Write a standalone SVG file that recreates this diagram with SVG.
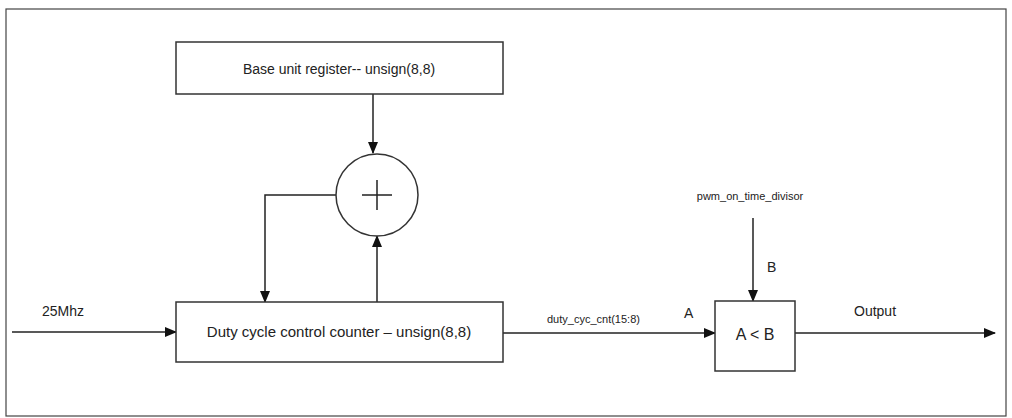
<svg xmlns="http://www.w3.org/2000/svg" width="1012" height="418" viewBox="0 0 1012 418">
<style>
.b{fill:#fff;stroke:#333;stroke-width:1.5}
.l{fill:none;stroke:#222;stroke-width:1.5}
text{font-family:"Liberation Sans",Arial,sans-serif;fill:#222}
</style>
<defs><marker id="a" markerWidth="12" markerHeight="10" refX="11" refY="5" orient="auto" markerUnits="userSpaceOnUse"><path d="M0,0L12,5L0,10z" fill="#111"/></marker></defs>
<rect x="0" y="0" width="1012" height="418" fill="#fff"/>
<rect x="6" y="9" width="1000" height="407" fill="none" stroke="#444" stroke-width="1.2"/>
<g id="connectors">
<path class="l" d="M373,94V153" marker-end="url(#a)"/>
<path class="l" d="M336,195H265V302" marker-end="url(#a)"/>
<path class="l" d="M377,302V236" marker-end="url(#a)"/>
<path class="l" d="M12,332H176" marker-end="url(#a)"/>
<path class="l" d="M503,333H715" marker-end="url(#a)"/>
<path class="l" d="M753,218V301" marker-end="url(#a)"/>
<path class="l" d="M795,333H995" marker-end="url(#a)"/>
</g>
<g id="base"><rect class="b" x="176" y="42" width="327" height="52"/><text x="339" y="74" font-size="14" text-anchor="middle">Base unit register-- unsign(8,8)</text></g>
<g id="adder"><circle class="b" cx="377" cy="195" r="41"/><path class="l" d="M362,195H392M377,180V210" stroke-width="1"/></g>
<g id="counter"><rect class="b" x="176" y="302" width="327" height="60"/><text x="339" y="337" font-size="15" text-anchor="middle">Duty cycle control counter – unsign(8,8)</text></g>
<g id="cmp"><rect class="b" x="715" y="301" width="80" height="70"/><text x="755" y="340" font-size="16" text-anchor="middle">A &lt; B</text></g>
<text x="42" y="316" font-size="14">25Mhz</text>
<text x="547" y="323" font-size="11">duty_cyc_cnt(15:8)</text>
<text x="684" y="318" font-size="14">A</text>
<text x="767" y="272" font-size="14">B</text>
<text x="750" y="200" font-size="11" text-anchor="middle">pwm_on_time_divisor</text>
<text x="854" y="316" font-size="14">Output</text>
</svg>
